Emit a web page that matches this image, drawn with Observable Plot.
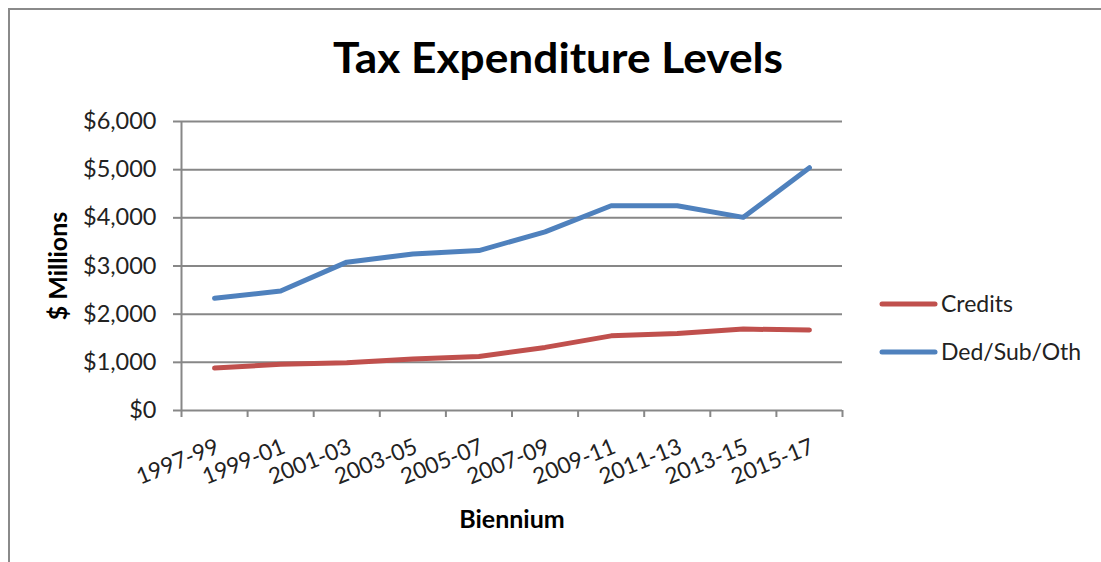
<!DOCTYPE html>
<html><head><meta charset="utf-8">
<script src="https://cdn.jsdelivr.net/npm/d3@7"></script>
<script src="https://cdn.jsdelivr.net/npm/@observablehq/plot@0.6"></script>
<style>
body{margin:0;background:#fff;font-family:Lato,sans-serif;}
#wrap{position:relative;width:1101px;height:562px;overflow:hidden;background:#fff;}
#border{position:absolute;left:8px;top:8px;width:1200px;height:700px;border-left:2px solid #8a8a8a;border-top:2px solid #8a8a8a;}
#chart, #overlay{position:absolute;left:0;top:0;}
g[aria-label="y-axis label"] text, g[aria-label="x-axis label"] text{font-weight:bold;font-size:25px;fill:#000;}
</style></head>
<body>
<div id="wrap">
<div id="border"></div>
<div id="chart"></div>
<svg id="overlay" width="1101" height="562"></svg>
</div>
<script>
const title = "Tax Expenditure Levels";
const categories = ["1997-99","1999-01","2001-03","2003-05","2005-07","2007-09","2009-11","2011-13","2013-15","2015-17"];
const credits = [880, 960, 990, 1070, 1120, 1310, 1550, 1600, 1690, 1670];
const dedSubOth = [2330, 2480, 3080, 3250, 3320, 3710, 4250, 4250, 4010, 5040];
const yTicks = [0, 1000, 2000, 3000, 4000, 5000, 6000];
const seriesNames = ["Credits", "Ded/Sub/Oth"];
const seriesColors = ["#C0504D", "#4F81BD"];

const rows = [];
categories.forEach((c, i) => {
  rows.push({i, series: seriesNames[0], value: credits[i]});
  rows.push({i, series: seriesNames[1], value: dedSubOth[i]});
});
const idx = categories.map((c, i) => i);
const bounds = d3.range(categories.length + 1).map(i => i - 0.5);
const gray = "#878787";

const plot = Plot.plot({
  width: 1101, height: 562,
  marginLeft: 181, marginRight: 259, marginTop: 121, marginBottom: 152,
  style: {fontFamily: "Lato, sans-serif", color: "#222", background: "transparent", overflow: "visible"},
  x: {domain: [-0.5, categories.length - 0.5]},
  y: {domain: [0, 6000]},
  color: {domain: seriesNames, range: seriesColors},
  marks: [
    Plot.gridY(yTicks, {stroke: gray, strokeOpacity: 1, strokeWidth: 2}),
    Plot.ruleX([-0.5], {stroke: gray, strokeWidth: 2}),
    Plot.axisY(yTicks, {tickFormat: d => "$" + d3.format(",")(d), tickSize: 8, tickPadding: 17, stroke: gray, strokeWidth: 2, fontSize: 23.5, label: "$ Millions", labelAnchor: "center", labelArrow: false, labelOffset: 132}),
    Plot.axisX(bounds, {tickSize: 7, tickFormat: () => "", stroke: gray, strokeWidth: 2, label: null}),
    Plot.axisX(idx, {tickSize: 0, tickFormat: i => categories[i], tickRotate: -22, textAnchor: "end", lineAnchor: "top", tickPadding: 27, fontSize: 22.5, label: "Biennium", labelAnchor: "center", labelArrow: false, labelOffset: 117}),
    Plot.line(rows, {x: "i", y: "value", z: "series", stroke: "series", strokeWidth: 5, strokeLinecap: "round", strokeLinejoin: "round"})
  ]
});
document.getElementById("chart").appendChild(plot);

// title and legend overlay
const ov = d3.select("#overlay");
ov.append("text").attr("x", 558).attr("y", 73).attr("text-anchor", "middle")
  .attr("font-family", "Lato, sans-serif").attr("font-weight", "bold").attr("font-size", 42)
  .attr("textLength", 450).attr("lengthAdjust", "spacingAndGlyphs").attr("fill", "#000").text(title);
const lg = ov.append("g").attr("transform", "translate(880,304)");
seriesNames.forEach((name, k) => {
  const g = lg.append("g").attr("transform", `translate(0,${k * 48})`);
  g.append("line").attr("x1", 2).attr("x2", 55).attr("y1", 0).attr("y2", 0)
    .attr("stroke", seriesColors[k]).attr("stroke-width", 5).attr("stroke-linecap", "round");
  g.append("text").attr("x", 61).attr("y", 8).attr("font-family", "Lato, sans-serif")
    .attr("font-size", 23).attr("fill", "#222").text(name);
});
</script>
</body></html>
